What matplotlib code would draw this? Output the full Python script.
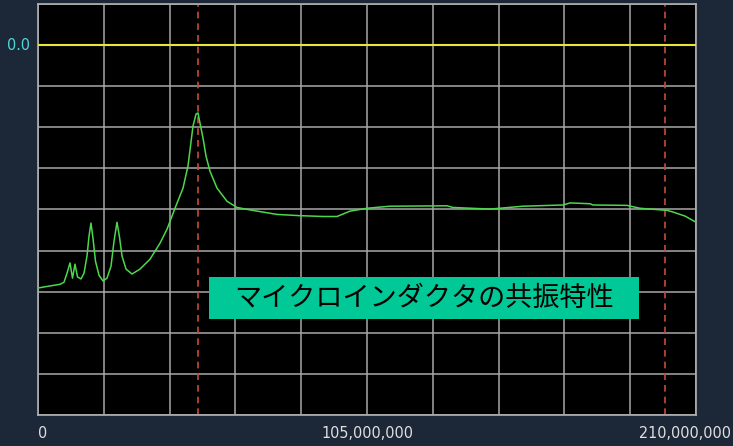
import matplotlib
matplotlib.use("Agg")
import matplotlib.pyplot as plt
from matplotlib import font_manager

freq_mhz = [0.0, 3.83, 7.02, 8.30, 9.26, 10.21, 11.01, 11.81, 12.61, 13.72, 14.68, 15.64,
            16.28, 16.91, 17.55, 18.35, 19.47, 20.74, 22.02, 23.30, 24.26, 25.21, 26.01,
            26.81, 28.09, 30.0, 32.55, 35.74, 38.94, 41.17, 43.72, 46.28, 47.87, 49.47,
            50.43, 51.06, 51.70, 52.66, 53.62, 54.89, 57.13, 60.32, 63.51, 67.66, 76.28,
            83.62, 90.97, 95.44, 99.57, 105.0, 112.3, 130.5, 132.4, 144.3, 154.8, 167.6,
            169.8, 176.2, 177.1, 188.0, 192.1, 200.7, 202.6, 206.5, 210.0]
level_db = [-59.1, -58.6, -58.2, -57.7, -55.5, -53.0, -56.7, -53.3, -56.4, -56.9, -55.5, -51.3,
            -46.5, -43.3, -47.0, -52.6, -56.0, -57.4, -56.7, -53.8, -47.7, -43.1, -46.7,
            -51.3, -54.5, -55.7, -54.5, -52.1, -48.2, -44.8, -39.7, -34.8, -29.4, -19.7,
            -16.8, -16.5, -19.0, -22.6, -27.0, -30.7, -34.8, -38.0, -39.5, -40.1, -41.2,
            -41.5, -41.7, -41.7, -40.4, -39.7, -39.2, -39.1, -39.5, -39.9, -39.2, -38.9,
            -38.4, -38.6, -38.9, -39.0, -39.7, -40.2, -40.6, -41.6, -43.1]
reference_db = 0.0
marker_freqs_mhz = [51.0, 200.0]
x_tick_values = [0, 105_000_000, 210_000_000]
x_tick_labels = ["0", "105,000,000", "210,000,000"]
title_text = "マイクロインダクタの共振特性"

num_kw = dict(family="DejaVu Sans", fontstretch="condensed", fontsize=11.5)

W, H = 733, 446
fig = plt.figure(figsize=(W / 100, H / 100), dpi=100)
fig.patch.set_facecolor("#1c2737")
left, right, top, bottom = 38, 696, 4, 415
ax = fig.add_axes([left / W, 1 - bottom / H, (right - left) / W, (bottom - top) / H])
ax.set_facecolor("black")

fx = [f * 1e6 for f in freq_mhz]
ax.set_xlim(0, 210e6)
ax.set_ylim(-90, 10)

for i in range(11):
    ax.axvline(i * 21e6, color="#a8a8a8", lw=1.1, zorder=1)
for j in range(11):
    ax.axhline(-90 + j * 10, color="#a8a8a8", lw=1.1, zorder=1)

ax.axhline(reference_db, color="#e8e830", lw=1.5, zorder=3)
for m in marker_freqs_mhz:
    ax.axvline(m * 1e6, color="#c84a3a", lw=1.2, ls=(0, (4, 3)), zorder=2)

ax.plot(fx, level_db, color="#4cd84c", lw=1.1, zorder=4)

for s in ax.spines.values():
    s.set_color("#b0b0b0")
    s.set_linewidth(1.2)
ax.tick_params(length=0)
ax.set_xticks([])
ax.set_yticks([])

# y label
ax.text(-0.012, reference_db, "0.0", transform=ax.get_yaxis_transform(), ha="right", va="center",
        color="#50d8d8", **num_kw)

# x labels
ax.text(x_tick_values[0], -0.045, x_tick_labels[0], transform=ax.get_xaxis_transform(),
        ha="left", va="center", color="#e0e0e0", **num_kw)
ax.text(x_tick_values[1], -0.045, x_tick_labels[1], transform=ax.get_xaxis_transform(),
        ha="center", va="center", color="#e0e0e0", **num_kw)
fig.text(731 / W, 1 - 433 / H, x_tick_labels[2], ha="right", va="center",
         color="#e0e0e0", **num_kw)

# label box
bx0, bx1, by0, by1 = 209, 639, 277, 319
fig.patches.append(plt.Rectangle((bx0 / W, 1 - by1 / H), (bx1 - bx0) / W, (by1 - by0) / H,
                                 transform=fig.transFigure, facecolor="#00c896",
                                 edgecolor="none", zorder=5))
fig.text((bx0 + bx1) / 2 / W, 1 - (by0 + by1) / 2 / H, title_text, ha="center", va="center",
         fontsize=19.5, color="black", family=["Noto Sans CJK JP", "DejaVu Sans"], zorder=6)

fig.savefig("out.png", dpi=100, facecolor=fig.get_facecolor())
